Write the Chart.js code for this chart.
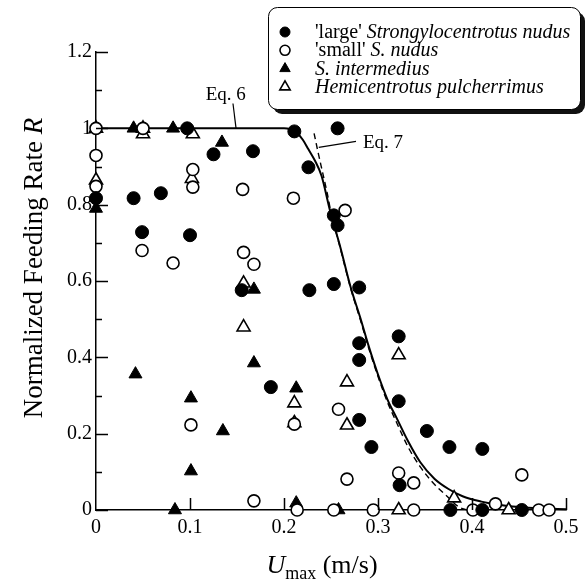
<!DOCTYPE html>
<html>
<head>
<meta charset="utf-8">
<title>Normalized feeding rate vs Umax</title>
<script src="https://cdn.jsdelivr.net/npm/chart.js@4.4.1/dist/chart.umd.min.js"></script>
<style>
  html, body { margin: 0; padding: 0; background: #fff; }
  canvas { display: block; }
</style>
</head>
<body>
<canvas id="feeding-chart" width="587" height="583" style="width:587px;height:583px"></canvas>
<script>
// Normalized feeding rate R of sea urchins against peak flow speed Umax,
// with the Eq. 6 (solid) and Eq. 7 (dashed) model curves.

// 'large' Strongylocentrotus nudus (filled circles)
const largeNudusX = [0, 0.040, 0.049, 0.069, 0.097, 0.100, 0.125, 0.167, 0.155, 0.211, 0.226, 0.227, 0.257, 0.253, 0.257, 0.253, 0.280, 0.280, 0.280, 0.186, 0.280, 0.293, 0.322, 0.322, 0.352, 0.376, 0.411, 0.323, 0.377, 0.411, 0.453];
const largeNudusY = [0.817, 0.817, 0.728, 0.830, 1.0, 0.720, 0.932, 0.940, 0.576, 0.992, 0.898, 0.576, 1.0, 0.772, 0.746, 0.592, 0.583, 0.437, 0.393, 0.322, 0.236, 0.165, 0.455, 0.285, 0.207, 0.165, 0.160, 0.065, 0, 0, 0];

// 'small' S. nudus (open circles)
const smallNudusX = [0, 0.050, 0, 0, 0.049, 0.082, 0.103, 0.103, 0.101, 0.156, 0.157, 0.168, 0.210, 0.265, 0.258, 0.267, 0.168, 0.211, 0.214, 0.253, 0.322, 0.338, 0.453, 0.295, 0.338, 0.401, 0.425, 0.471, 0.482];
const smallNudusY = [1.0, 1.0, 0.929, 0.848, 0.680, 0.647, 0.892, 0.846, 0.223, 0.840, 0.675, 0.644, 0.817, 0.785, 0.264, 0.081, 0.024, 0.225, 0, 0, 0.097, 0.071, 0.092, 0, 0, 0, 0.016, 0, 0];

// S. intermedius (filled triangles)
const intermediusX = [0, 0.040, 0.082, 0.134, 0.042, 0.101, 0.101, 0.084, 0.135, 0.168, 0.168, 0.213, 0.213, 0.258];
const intermediusY = [0.79, 1.0, 1.0, 0.963, 0.356, 0.293, 0.102, 0, 0.207, 0.578, 0.385, 0.319, 0.018, 0];

// Hemicentrotus pulcherrimus (open triangles)
const pulcherrimusX = [0, 0.050, 0.050, 0.103, 0, 0.102, 0.157, 0.157, 0.211, 0.211, 0.267, 0.267, 0.322, 0.381, 0.322, 0.439];
const pulcherrimusY = [1.0, 1.0, 0.985, 0.985, 0.864, 0.868, 0.594, 0.479, 0.280, 0.228, 0.335, 0.222, 0.406, 0.031, 0, 0];

// Eq. 6 curve (solid)
const eq6X = [0, 0.2, 0.207, 0.214, 0.22, 0.226, 0.233, 0.24, 0.249, 0.26, 0.271, 0.281, 0.29, 0.3, 0.31, 0.32, 0.332, 0.345, 0.36, 0.375, 0.39, 0.41, 0.43, 0.46, 0.5];
const eq6Y = [1, 1, 0.997, 0.988, 0.97, 0.945, 0.915, 0.875, 0.784, 0.688, 0.583, 0.505, 0.43, 0.355, 0.29, 0.24, 0.18, 0.125, 0.082, 0.055, 0.036, 0.022, 0.013, 0.006, 0.002];

// Eq. 7 curve (dashed)
const eq7X = [0.232, 0.236, 0.241, 0.246, 0.25, 0.26, 0.271, 0.281, 0.29, 0.3, 0.31, 0.32, 0.332, 0.345, 0.359, 0.374, 0.386, 0.395];
const eq7Y = [0.987, 0.94, 0.885, 0.83, 0.78, 0.685, 0.58, 0.5, 0.425, 0.35, 0.283, 0.228, 0.165, 0.113, 0.07, 0.035, 0.008, 0];

// Axis ticks
const xTicks = [0, 0.1, 0.2, 0.3, 0.4, 0.5];
const xTickLabels = ['0', '0.1', '0.2', '0.3', '0.4', '0.5'];
const yTicks = [0, 0.2, 0.4, 0.6, 0.8, 1.0, 1.2];
const yTickLabels = ['0', '0.2', '0.4', '0.6', '0.8', '1', '1.2'];
const yMinorTicks = [0.1, 0.3, 0.5, 0.7, 0.9, 1.1];

// Legend rows: [marker index, text pieces]
const legendRows = [
  [0, [["'large' ", false], ['Strongylocentrotus nudus', true]]],
  [1, [["'small' ", false], ['S. nudus', true]]],
  [2, [['S. intermedius', true]]],
  [3, [['Hemicentrotus pulcherrimus', true]]],
];

// Equation labels: text, text anchor (data units), leader line (data units)
const eqLabels = [
  { text: 'Eq. 6', at: [0.138, 1.075], align: 'center', from: [0.1457, 1.065], to: [0.149, 1.0] },
  { text: 'Eq. 7', at: [0.284, 0.948], align: 'left', from: [0.2766, 0.966], to: [0.237, 0.950] },
];

const SERIF = "'Liberation Serif', 'Times New Roman', serif";

const zip = (xs, ys) => xs.map((x, i) => ({ x, y: ys[i] }));

const markers = [
  { pointStyle: 'circle', radius: 6.5, fill: '#000' },
  { pointStyle: 'circle', radius: 6, fill: '#fff' },
  { pointStyle: 'triangle', radius: 7.5, fill: '#000' },
  { pointStyle: 'triangle', radius: 7.5, fill: '#fff' },
];

const seriesData = [
  zip(largeNudusX, largeNudusY),
  zip(smallNudusX, smallNudusY),
  zip(intermediusX, intermediusY),
  zip(pulcherrimusX, pulcherrimusY),
];

const pointSets = seriesData.map((data, i) => ({
  data,
  showLine: false,
  pointStyle: markers[i].pointStyle,
  pointRadius: markers[i].radius,
  pointBackgroundColor: markers[i].fill,
  pointBorderColor: '#000',
  pointBorderWidth: markers[i].fill === '#fff' ? 1.6 : 1,
  clip: false,
  order: 1,
}));

const curveSets = [
  {
    data: zip(eq6X, eq6Y),
    showLine: true,
    borderColor: '#000',
    borderWidth: 2,
    pointRadius: 0,
    cubicInterpolationMode: 'monotone',
    clip: false,
    order: 5,
  },
  {
    data: zip(eq7X, eq7Y),
    showLine: true,
    borderColor: '#000',
    borderWidth: 1.4,
    borderDash: [6, 4],
    pointRadius: 0,
    cubicInterpolationMode: 'monotone',
    clip: false,
    order: 6,
  },
];

// Text runs with mixed roman / italic pieces
const drawRuns = (ctx, runs, size, x, y) => {
  let cx = x;
  runs.forEach(([text, italic]) => {
    ctx.font = `${italic ? 'italic ' : ''}${size}px ${SERIF}`;
    ctx.fillText(text, cx, y);
    cx += ctx.measureText(text).width;
  });
};

const runsWidth = (ctx, runs, size) => runs.reduce((w, [text, italic]) => {
  ctx.font = `${italic ? 'italic ' : ''}${size}px ${SERIF}`;
  return w + ctx.measureText(text).width;
}, 0);

const roundRect = (ctx, x, y, w, h, r) => {
  ctx.beginPath();
  ctx.moveTo(x + r, y);
  ctx.arcTo(x + w, y, x + w, y + h, r);
  ctx.arcTo(x + w, y + h, x, y + h, r);
  ctx.arcTo(x, y + h, x, y, r);
  ctx.arcTo(x, y, x + w, y, r);
  ctx.closePath();
};

const decorations = {
  id: 'decorations',
  beforeDraw(chart) {
    const { ctx, width, height } = chart;
    ctx.save();
    ctx.fillStyle = '#fff';
    ctx.fillRect(0, 0, width, height);
    ctx.restore();
  },
  afterDraw(chart) {
    const { ctx, chartArea, scales: { x, y } } = chart;
    ctx.save();
    ctx.strokeStyle = '#000';
    ctx.fillStyle = '#000';
    ctx.lineWidth = 1.5;

    // inward tick marks
    ctx.beginPath();
    yTicks.forEach((v) => {
      const py = Math.round(y.getPixelForValue(v)) + 0.5;
      ctx.moveTo(chartArea.left, py);
      ctx.lineTo(chartArea.left + 12, py);
    });
    yMinorTicks.forEach((v) => {
      const py = Math.round(y.getPixelForValue(v)) + 0.5;
      ctx.moveTo(chartArea.left, py);
      ctx.lineTo(chartArea.left + 6, py);
    });
    xTicks.slice(1).forEach((v) => {
      const px = Math.round(x.getPixelForValue(v)) + 0.5;
      ctx.moveTo(px, chartArea.bottom);
      ctx.lineTo(px, chartArea.bottom - 12);
    });
    ctx.stroke();

    // y axis title
    ctx.textBaseline = 'alphabetic';
    const yRuns = [['Normalized Feeding Rate ', false], ['R', true]];
    const ySize = 27;
    ctx.save();
    ctx.translate(42, 268);
    ctx.rotate(-Math.PI / 2);
    drawRuns(ctx, yRuns, ySize, -runsWidth(ctx, yRuns, ySize) / 2, 0);
    ctx.restore();

    // x axis title: U with subscript max
    ctx.font = `italic 26px ${SERIF}`;
    const wU = ctx.measureText('U').width;
    ctx.font = `18px ${SERIF}`;
    const wSub = ctx.measureText('max').width;
    ctx.font = `26px ${SERIF}`;
    const wRest = ctx.measureText(' (m/s)').width;
    let tx = 322 - (wU + wSub + wRest) / 2;
    ctx.font = `italic 26px ${SERIF}`;
    ctx.fillText('U', tx, 573);
    tx += wU;
    ctx.font = `18px ${SERIF}`;
    ctx.fillText('max', tx, 579);
    tx += wSub;
    ctx.font = `26px ${SERIF}`;
    ctx.fillText(' (m/s)', tx, 573);

    // equation labels with leader lines
    ctx.lineWidth = 1.2;
    ctx.font = `19px ${SERIF}`;
    eqLabels.forEach((lab) => {
      ctx.beginPath();
      ctx.moveTo(x.getPixelForValue(lab.from[0]), y.getPixelForValue(lab.from[1]));
      ctx.lineTo(x.getPixelForValue(lab.to[0]), y.getPixelForValue(lab.to[1]));
      ctx.stroke();
      ctx.textAlign = lab.align;
      ctx.fillText(lab.text, x.getPixelForValue(lab.at[0]), y.getPixelForValue(lab.at[1]));
    });
    ctx.textAlign = 'left';

    // legend box with drop shadow
    const bx = 268, by = 7, bw = 312, bh = 102;
    ctx.fillStyle = '#111';
    roundRect(ctx, bx + 5, by + 5, bw, bh, 9);
    ctx.fill();
    ctx.fillStyle = '#fff';
    ctx.lineWidth = 1;
    roundRect(ctx, bx + 0.5, by + 0.5, bw, bh, 9);
    ctx.fill();
    ctx.stroke();

    legendRows.forEach(([mi, runs], i) => {
      const cy = 32 + i * 18.3;
      const m = markers[mi];
      ctx.fillStyle = m.fill;
      ctx.strokeStyle = '#000';
      ctx.lineWidth = m.fill === '#fff' ? 1.6 : 1;
      Chart.helpers.drawPoint(ctx, {
        pointStyle: m.pointStyle,
        radius: m.pointStyle === 'circle' ? 5 : 6,
        rotation: 0,
        borderWidth: ctx.lineWidth,
      }, 285, cy);
      ctx.fillStyle = '#000';
      drawRuns(ctx, runs, 20, 315, cy + 6);
    });

    ctx.restore();
  },
};

const tickFont = { family: SERIF, size: 20 };

new Chart(document.getElementById('feeding-chart'), {
  type: 'scatter',
  data: { datasets: [...pointSets, ...curveSets] },
  options: {
    responsive: false,
    animation: false,
    devicePixelRatio: 1,
    layout: { padding: { left: 0, top: 52, right: 21, bottom: 0 } },
    plugins: {
      legend: { display: false },
      tooltip: { enabled: false },
    },
    scales: {
      x: {
        type: 'linear',
        min: 0,
        max: 0.5,
        afterBuildTicks: (s) => { s.ticks = xTicks.map((v) => ({ value: v })); },
        afterFit: (s) => { s.height = 73; },
        ticks: {
          color: '#000',
          font: tickFont,
          padding: 6,
          maxRotation: 0,
          autoSkip: false,
          callback: (v, i) => xTickLabels[i],
        },
        grid: { display: false, drawTicks: false },
        border: { display: true, color: '#000', width: 1.5 },
      },
      y: {
        type: 'linear',
        min: 0,
        max: 1.2,
        afterBuildTicks: (s) => { s.ticks = yTicks.map((v) => ({ value: v })); },
        afterFit: (s) => { s.width = 96; },
        ticks: {
          color: '#000',
          font: tickFont,
          padding: 4,
          autoSkip: false,
          callback: (v, i) => yTickLabels[i],
        },
        grid: { display: false, drawTicks: false },
        border: { display: true, color: '#000', width: 1.5 },
      },
    },
  },
  plugins: [decorations],
});
</script>
</body>
</html>
